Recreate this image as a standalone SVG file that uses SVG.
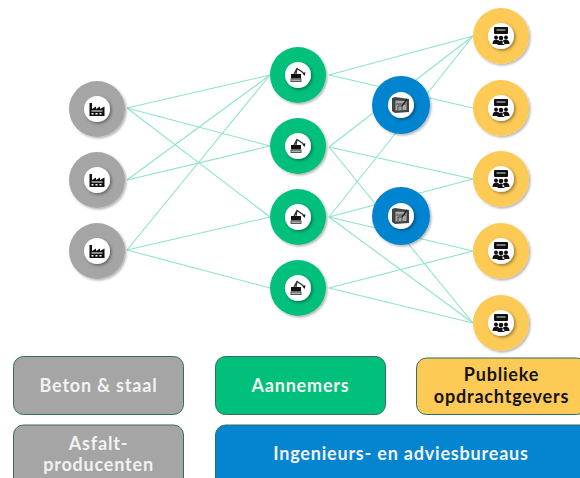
<svg xmlns="http://www.w3.org/2000/svg" xmlns:xlink="http://www.w3.org/1999/xlink" width="580" height="478" viewBox="0 0 580 478">
<style>
.c line{stroke:#8ce5c4;stroke-width:1.100;fill:none}
.d{filter:url(#s)}
.i{fill:#fff;filter:url(#s2)}
.k{fill:#111}
.box{stroke:#2f6f5c;stroke-width:1}
.t{font-family:"Lato","Noto Sans",sans-serif;font-size:18px;font-weight:700;letter-spacing:.8px;text-anchor:middle;fill:#f2f2f2}
.y{fill:#141414}
.gr{fill:#a5a5a5}.gn{fill:#00c07c}.bl{fill:#0584cf}.ye{fill:#fdca55}
</style>
<defs>
<filter id="s" x="-20%" y="-20%" width="150%" height="150%"><feDropShadow dx="1.500" dy="1.500" stdDeviation="1.200" flood-color="#000" flood-opacity=".3"/></filter>
<filter id="s2" x="-30%" y="-30%" width="170%" height="170%"><feDropShadow dx="1.500" dy="1.500" stdDeviation="1.500" flood-color="#000" flood-opacity=".4"/></filter>
<g id="fac"><path class="k" d="M-7.500 7V-6h2.500V0L-1-2.500V0L3-2.500V0L7.500-2.500V7Z"/><path fill="#fff" d="M-5.500 1.500h11v1h-11zM-5.500 4h2v1.500h-2zM-1.500 4h2v1.500h-2zM2.500 4h2v1.500h-2z"/></g>
<g id="exc"><path class="k" d="M-7-1H3V3.500H-7Z"/><path fill="#555" d="M-7.500 3.500H3.500V7H-7.500Z"/><path fill="none" stroke="#333" stroke-width="1.300" d="M-4-1-1-6.500 5-2.500M-1-6.500-2-1"/><path class="k" d="M4-2.500h3.500L6.500 1Z"/><path fill="#ddd" d="M-6.500 4.700h9v1h-9z"/></g>
<g id="pln"><path fill="#444" d="M-9-7-6-8 8-6V7L-6 8-9 6Z"/><path fill="#a8a8a8" d="M-5.500-4.500 5.500-4V5L-5.500 5.500Z"/><path fill="none" stroke="#444" d="M-3 5V1h4v4M-5-1H5"/><path fill="none" stroke="#222" stroke-width="1.300" d="M1 1 6-6"/></g>
<g id="aud"><rect class="k" x="-7" y="-9" width="14" height="7" rx="1"/><rect fill="#777" x="-4.500" y="-7" width="9" height="2"/><circle class="k" cx="-5" cy="1.500" r="2"/><circle class="k" cx="5" cy="1.500" r="2"/><circle class="k" cx="0" cy="2" r="2.300"/><path class="k" d="M-8.500 8c0-6 7-5 7-2-.500 1 0 2 0 2ZM8.500 8c0-6-7-5-7-2 .500 1 0 2 0 2ZM-3.500 9c0-6 7-6 7 0Z"/></g>
</defs>
<g id="connectors" class="c">
<line x1="127" y1="108" x2="270" y2="75"/><line x1="127" y1="108" x2="270" y2="146"/><line x1="127" y1="108" x2="270" y2="217"/>
<line x1="127" y1="180" x2="270" y2="75"/><line x1="127" y1="180" x2="270" y2="146"/>
<line x1="127" y1="250" x2="270" y2="75"/><line x1="127" y1="250" x2="270" y2="217"/><line x1="127" y1="250" x2="270" y2="288"/>
<line x1="329" y1="75" x2="473" y2="36"/><line x1="329" y1="75" x2="473" y2="108"/>
<line x1="329" y1="147" x2="473" y2="36"/><line x1="329" y1="147" x2="473" y2="179"/><line x1="329" y1="147" x2="473" y2="323"/>
<line x1="329" y1="217" x2="473" y2="36"/><line x1="329" y1="217" x2="473" y2="179"/><line x1="329" y1="217" x2="473" y2="251"/><line x1="329" y1="217" x2="473" y2="323"/>
<line x1="329" y1="288" x2="473" y2="251"/><line x1="329" y1="288" x2="473" y2="323"/>
</g>
<g id="p1"><circle class="d gr" cx="97" cy="109" r="28"/><circle class="i" cx="97" cy="109" r="13"/><use xlink:href="#fac" href="#fac" x="97" y="109"/></g>
<g id="p2"><circle class="d gr" cx="97" cy="180" r="28"/><circle class="i" cx="97" cy="180" r="13"/><use xlink:href="#fac" href="#fac" x="97" y="180"/></g>
<g id="p3"><circle class="d gr" cx="97" cy="251" r="28"/><circle class="i" cx="97" cy="251" r="13"/><use xlink:href="#fac" href="#fac" x="97" y="251"/></g>
<g id="a1"><circle class="d gn" cx="298" cy="75" r="28"/><circle class="i" cx="298" cy="75" r="13"/><use xlink:href="#exc" href="#exc" x="298" y="75"/></g>
<g id="a2"><circle class="d gn" cx="298" cy="146" r="28"/><circle class="i" cx="298" cy="146" r="13"/><use xlink:href="#exc" href="#exc" x="298" y="146"/></g>
<g id="a3"><circle class="d gn" cx="298" cy="217" r="28"/><circle class="i" cx="298" cy="217" r="13"/><use xlink:href="#exc" href="#exc" x="298" y="217"/></g>
<g id="a4"><circle class="d gn" cx="298" cy="288" r="28"/><circle class="i" cx="298" cy="288" r="13"/><use xlink:href="#exc" href="#exc" x="298" y="288"/></g>
<g id="b1"><circle class="d bl" cx="401" cy="105" r="29"/><circle class="i" cx="401" cy="105" r="13"/><use xlink:href="#pln" href="#pln" x="401" y="105"/></g>
<g id="b2"><circle class="d bl" cx="401" cy="216" r="29"/><circle class="i" cx="401" cy="216" r="13"/><use xlink:href="#pln" href="#pln" x="401" y="216"/></g>
<g id="o1"><circle class="d ye" cx="501" cy="36" r="28"/><circle class="i" cx="501" cy="36" r="13"/><use xlink:href="#aud" href="#aud" x="501" y="36"/></g>
<g id="o2"><circle class="d ye" cx="501" cy="108" r="28"/><circle class="i" cx="501" cy="108" r="13"/><use xlink:href="#aud" href="#aud" x="501" y="108"/></g>
<g id="o3"><circle class="d ye" cx="501" cy="179" r="28"/><circle class="i" cx="501" cy="179" r="13"/><use xlink:href="#aud" href="#aud" x="501" y="179"/></g>
<g id="o4"><circle class="d ye" cx="501" cy="251" r="28"/><circle class="i" cx="501" cy="251" r="13"/><use xlink:href="#aud" href="#aud" x="501" y="251"/></g>
<g id="o5"><circle class="d ye" cx="501" cy="323" r="28"/><circle class="i" cx="501" cy="323" r="13"/><use xlink:href="#aud" href="#aud" x="501" y="323"/></g>
<g id="l1"><rect class="box gr" x="13.500" y="356.500" width="170" height="58" rx="10"/><text class="t" x="98.500" y="391.500">Beton &amp; staal</text></g>
<g id="l2"><rect class="box gn" x="215.500" y="356.500" width="170" height="58" rx="10"/><text class="t" x="300.500" y="391.500">Aannemers</text></g>
<g id="l3"><rect class="box ye" x="416.500" y="358" width="170" height="56.500" rx="10"/><text class="t y" x="501.500" y="381">Publieke</text><text class="t y" x="501.500" y="403">opdrachtgevers</text></g>
<g id="l4"><rect class="box gr" x="13.500" y="425" width="170" height="66" rx="10"/><text class="t" x="98.500" y="450">Asfalt-</text><text class="t" x="98.500" y="471">producenten</text></g>
<g id="l5"><rect class="box bl" x="215.500" y="425" width="380" height="66" rx="10"/><text class="t" x="401" y="460">Ingenieurs- en adviesbureaus</text></g>
</svg>
